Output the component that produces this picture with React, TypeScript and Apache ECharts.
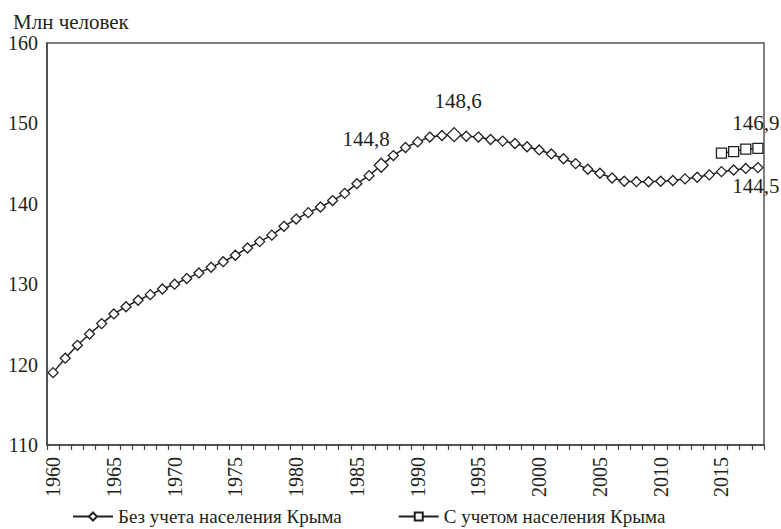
import React, { useEffect, useRef } from "react";
import * as echarts from "echarts";

const years: string[] = [];
for (let y = 1960; y <= 2018; y++) years.push(String(y));

const withoutCrimea = [
  119.0, 120.8, 122.4, 123.8, 125.1, 126.3, 127.2, 128.0, 128.7, 129.4,
  130.0, 130.7, 131.4, 132.1, 132.8, 133.6, 134.5, 135.3, 136.1, 137.2,
  138.1, 138.9, 139.6, 140.4, 141.3, 142.5, 143.5, 144.8, 146.0, 147.0,
  147.7, 148.3, 148.5, 148.6, 148.4, 148.3, 148.0, 147.8, 147.5, 147.1,
  146.7, 146.2, 145.6, 145.0, 144.3, 143.8, 143.2, 142.8, 142.75, 142.74,
  142.8, 142.9, 143.1, 143.3, 143.6, 144.0, 144.2, 144.4, 144.5,
];

const withCrimea: (number | null)[] = [
  ...new Array(55).fill(null),
  146.3, 146.5, 146.8, 146.9,
];

const highlighted: Record<string, { size: number; pos: string; offset: [number, number] }> = {
  "1987": { size: 14, pos: "top", offset: [-15, 0] },
  "1993": { size: 14, pos: "top", offset: [4, -8] },
  "2018": { size: 10, pos: "bottom", offset: [-2, -2] },
};

const fontFamily = "Liberation Serif";
const textColor = "#231f20";

export default function App() {
  const ref = useRef<HTMLDivElement>(null);
  useEffect(() => {
    if (!ref.current) return;
    const chart = echarts.init(ref.current, undefined, { renderer: "svg" });

    const diamondData = withoutCrimea.map((v, i) => {
      const h = highlighted[years[i]];
      if (!h) return v;
      return {
        value: v,
        symbolSize: h.size,
        label: {
          show: true,
          position: h.pos,
          offset: h.offset,
          formatter: () => v.toFixed(1).replace(".", ","),
          fontSize: 21,
          fontFamily,
          color: textColor,
          distance: h.pos === "bottom" ? 4 : 8,
        },
      };
    });

    const squareData = withCrimea.map((v, i) => {
      if (v === null) return null;
      if (i === withCrimea.length - 1) {
        return {
          value: v,
          label: {
            show: true,
            position: "top",
            offset: [-2, -4],
            formatter: () => v.toFixed(1).replace(".", ","),
            fontSize: 21,
            fontFamily,
            color: textColor,
          },
        };
      }
      return v;
    });

    chart.setOption({
      animation: false,
      textStyle: { fontFamily, color: textColor },
      title: {
        text: "Млн человек",
        left: 8,
        top: 6,
        textStyle: { fontSize: 21, fontWeight: "normal", fontFamily, color: textColor },
      },
      grid: {
        left: 47,
        right: 17,
        top: 43,
        bottom: 84,
        containLabel: false,
        outerBoundsMode: "none",
        show: true,
        borderColor: "#555",
        borderWidth: 1.5,
      },
      legend: {
        top: 502,
        left: 67,
        itemWidth: 40,
        itemHeight: 10,
        itemGap: 56,
        textStyle: { fontSize: 19, fontFamily, color: textColor },
        data: ["Без учета населения Крыма", "С учетом населения Крыма"],
      },
      xAxis: {
        type: "category",
        data: years,
        boundaryGap: true,
        axisLine: { lineStyle: { color: "#444", width: 1.5 } },
        axisTick: { show: true, interval: 0, length: 5, lineStyle: { color: "#444", width: 1.2 } },
        axisLabel: {
          show: true,
          interval: 4,
          rotate: 90,
          fontSize: 20,
          fontFamily,
          color: textColor,
          margin: 12,
        },
        splitLine: { show: false },
      },
      yAxis: {
        type: "value",
        min: 110,
        max: 160,
        interval: 10,
        axisLine: { show: true, lineStyle: { color: "#444", width: 1.5 } },
        axisTick: { show: false },
        splitLine: { show: false },
        axisLabel: { fontSize: 20, fontFamily, color: textColor, margin: 9 },
      },
      series: [
        {
          name: "Без учета населения Крыма",
          type: "line",
          data: diamondData,
          symbol: "diamond",
          symbolSize: 10,
          showAllSymbol: true,
          lineStyle: { color: "#231f20", width: 1.5 },
          itemStyle: { color: "#fff", borderColor: "#231f20", borderWidth: 1.3 },
        },
        {
          name: "С учетом населения Крыма",
          type: "line",
          data: squareData,
          symbol: "rect",
          symbolSize: 10,
          showAllSymbol: true,
          lineStyle: { color: "#231f20", width: 1.5 },
          itemStyle: { color: "#fff", borderColor: "#231f20", borderWidth: 1.3 },
        },
      ],
    });
    return () => chart.dispose();
  }, []);
  return (
    <div
      ref={ref}
      style={{ position: "absolute", left: 0, top: 0, width: 781, height: 529 }}
    />
  );
}
